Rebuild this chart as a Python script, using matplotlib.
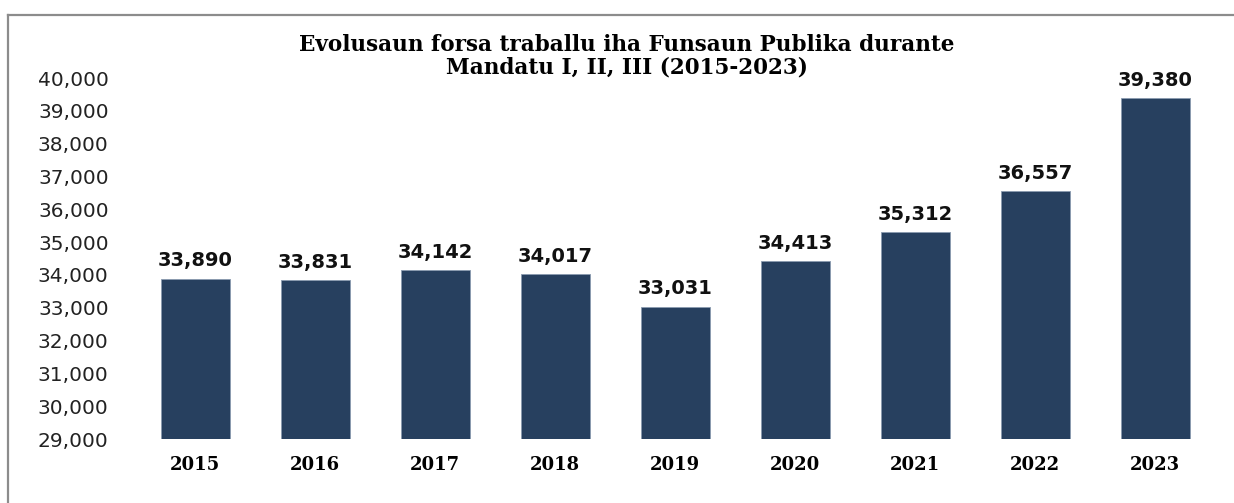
import matplotlib
matplotlib.use("Agg")
import matplotlib.pyplot as plt
from matplotlib.lines import Line2D
from matplotlib.ticker import FuncFormatter

years = ["2015", "2016", "2017", "2018", "2019", "2020", "2021", "2022", "2023"]
values = [33890, 33831, 34142, 34017, 33031, 34413, 35312, 36557, 39380]
title = "Evolusaun forsa traballu iha Funsaun Publika durante\nMandatu I, II, III (2015-2023)"

W, H = 1234, 503
fig = plt.figure(figsize=(W / 100, H / 100), dpi=100)
ax = fig.add_axes([135 / W, 1 - 439 / H, (1215 - 135) / W, (439 - 78) / H])

x = list(range(len(years)))
bars = ax.bar(x, values, width=0.575, color="#27405F", edgecolor="#8a9bb0", linewidth=0.6, bottom=0)
ax.set_xlim(-0.5, len(years) - 0.5)
ax.set_ylim(29000, 40000)
ax.set_yticks(range(29000, 40001, 1000))
ax.yaxis.set_major_formatter(FuncFormatter(lambda v, p: f"{int(v):,}"))
ax.set_xticks(x)
ax.set_xticklabels(years, fontfamily="DejaVu Serif", fontweight="bold", fontsize=13)
for lab in ax.get_yticklabels():
    lab.set_fontfamily("DejaVu Sans")
    lab.set_fontsize(14.5)
    lab.set_color("#222222")
ax.tick_params(axis="y", length=0, pad=19)
ax.tick_params(axis="x", length=0, pad=12)
for s in ax.spines.values():
    s.set_visible(False)

for xi, v in zip(x, values):
    ax.annotate(f"{v:,}", (xi, v), xytext=(0, 6), textcoords="offset points",
                ha="center", va="bottom", fontsize=14, fontweight="bold",
                fontfamily="DejaVu Sans", color="#111111")

fig.text(627 / W, 1 - 56 / H, title, ha="center", va="center",
         fontfamily="DejaVu Serif", fontweight="bold", fontsize=15.5, linespacing=1.05)

# outer border (left and top)
fig.add_artist(Line2D([8 / W, 8 / W], [0, 1 - 15 / H], transform=fig.transFigure, color="#8c8c8c", linewidth=1.6))
fig.add_artist(Line2D([8 / W, 1], [1 - 15 / H, 1 - 15 / H], transform=fig.transFigure, color="#8c8c8c", linewidth=1.6))

fig.savefig("out.png", dpi=100)
